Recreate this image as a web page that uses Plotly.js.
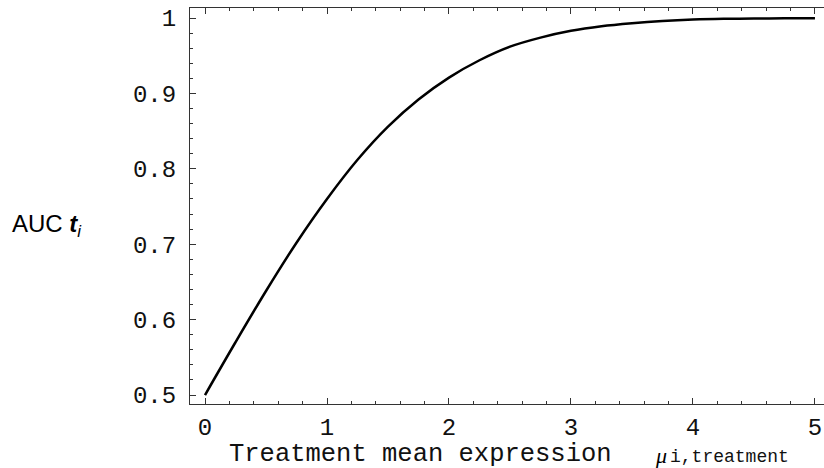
<!DOCTYPE html>
<html>
<head>
<meta charset="utf-8">
<script src="https://cdn.plot.ly/plotly-3.0.1.min.js"></script>
<style>html,body{margin:0;padding:0;background:#fff;}#chart{width:824px;height:468px;}</style>
</head>
<body>
<div id="chart"></div>
<script>
// Values
const mu = [0, 0.25, 0.5, 0.75, 1, 1.25, 1.5, 1.75, 2, 2.25, 2.5, 2.75, 3, 3.25, 3.5, 3.75, 4, 4.25, 4.5, 4.75, 5];
const auc = [0.5, 0.570, 0.638, 0.702, 0.760, 0.812, 0.856, 0.892, 0.921, 0.944, 0.962, 0.974, 0.983, 0.989, 0.993, 0.996, 0.998, 0.999, 0.9993, 0.9996, 0.9998];
const xTicks = [0, 1, 2, 3, 4, 5];
const yTicks = [0.5, 0.6, 0.7, 0.8, 0.9, 1];
const yTickText = ['0.5', '0.6', '0.7', '0.8', '0.9', '1'];

const W = 824, H = 468, L = 190, T = 8, B = 64, R = 0;
const pw = W - L - R, ph = H - T - B;
const px = v => (v - L) / pw;
const py = v => (H - B - v) / ph;

const mono = 'Liberation Mono, Courier New, monospace';
const frame = '#333';

Plotly.newPlot('chart', [{
  x: mu, y: auc, type: 'scatter', mode: 'lines',
  line: {color: '#000', width: 2.5, shape: 'spline', smoothing: 1},
  hoverinfo: 'skip', showlegend: false
}], {
  width: W, height: H,
  margin: {l: L, r: R, t: T, b: B, pad: 0},
  paper_bgcolor: '#fff', plot_bgcolor: '#fff',
  font: {family: mono, color: '#000'},
  xaxis: {
    range: [-0.123, 5.074], tickvals: xTicks, ticktext: xTicks.map(String),
    showgrid: false, zeroline: false, showline: true, linecolor: frame, linewidth: 1,
    mirror: 'ticks', ticks: 'inside', ticklen: 6, tickwidth: 1, tickcolor: frame,
    tickfont: {family: mono, size: 24, color: '#111'}, ticklabelstandoff: 1,
    minor: {dtick: 0.2, tick0: 0, ticks: 'inside', ticklen: 3, tickcolor: frame, showgrid: false}
  },
  yaxis: {
    range: [0.4881, 1.0133], tickvals: yTicks, ticktext: yTickText,
    showgrid: false, zeroline: false, showline: true, linecolor: frame, linewidth: 1,
    mirror: false, ticks: 'inside', ticklen: 6, tickwidth: 1, tickcolor: frame,
    tickfont: {family: mono, size: 24, color: '#111'}, ticklabelstandoff: 8,
    minor: {dtick: 0.02, tick0: 0.5, ticks: 'inside', ticklen: 3, tickcolor: frame, showgrid: false}
  },
  annotations: [
    {xref: 'paper', yref: 'paper', x: px(227), y: py(454), xanchor: 'left', yanchor: 'middle',
     text: 'Treatment mean expression', showarrow: false,
     font: {family: mono, size: 25.5, color: '#111'}},
    {xref: 'paper', yref: 'paper', x: px(653), y: py(455), xanchor: 'left', yanchor: 'middle',
     text: '<i>μ</i>', showarrow: false,
     font: {family: 'Liberation Serif, Times New Roman, serif', size: 22, color: '#000'}},
    {xref: 'paper', yref: 'paper', x: px(668), y: py(457), xanchor: 'left', yanchor: 'middle',
     text: 'i,treatment', showarrow: false,
     font: {family: mono, size: 18, color: '#111'}},
    {xref: 'paper', yref: 'paper', x: px(10), y: py(225), xanchor: 'left', yanchor: 'middle',
     text: 'AUC <b><i>t</i></b><sub><i>i</i></sub>', showarrow: false,
     font: {family: 'Liberation Sans, Arial, sans-serif', size: 24, color: '#000'}}
  ]
}, {displayModeBar: false, staticPlot: true});
</script>
</body>
</html>
